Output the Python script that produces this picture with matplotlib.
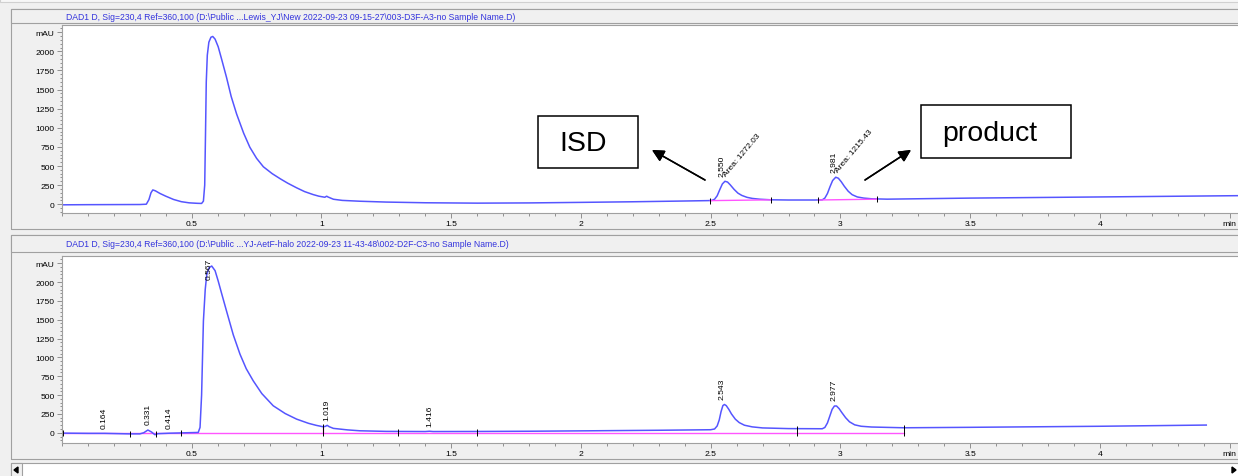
import numpy as np
import matplotlib
matplotlib.use("Agg")
import matplotlib.pyplot as plt
from matplotlib.patches import Rectangle, Polygon
from matplotlib.ticker import MultipleLocator

plt.rcParams['font.family'] = ['Liberation Sans', 'DejaVu Sans']

W, H = 1238, 477

# ---- data (time in min, signal in mAU) ----
top_title = r"DAD1 D, Sig=230,4 Ref=360,100 (D:\Public ...Lewis_YJ\New 2022-09-23 09-15-27\003-D3F-A3-no Sample Name.D)"
bot_title = r"DAD1 D, Sig=230,4 Ref=360,100 (D:\Public ...YJ-AetF-halo 2022-09-23 11-43-48\002-D2F-C3-no Sample Name.D)"

top_t = [0.00, 0.10, 0.20, 0.30, 0.325, 0.335, 0.343, 0.350, 0.360, 0.378, 0.40, 0.43, 0.46, 0.49, 0.52,
         0.538, 0.545, 0.550, 0.553, 0.556, 0.560, 0.566, 0.574, 0.581, 0.590, 0.602, 0.615, 0.634, 0.652,
         0.673, 0.70, 0.724, 0.75, 0.776, 0.81, 0.842, 0.87, 0.904, 0.935, 0.968, 0.99, 1.013, 1.020, 1.025,
         1.046, 1.08, 1.148, 1.25, 1.40, 1.60, 1.80, 2.00, 2.20, 2.40, 2.49, 2.505, 2.515, 2.525, 2.535,
         2.545, 2.555, 2.565, 2.575, 2.59, 2.605, 2.62, 2.64, 2.66, 2.69, 2.73, 2.80, 2.90, 2.93, 2.94,
         2.95, 2.96, 2.97, 2.982, 2.992, 3.003, 3.015, 3.03, 3.045, 3.065, 3.09, 3.12, 3.18, 3.50, 4.00, 4.54]
top_mau = [-8, -6, -5, -4, 0, 60, 150, 187, 175, 140, 105, 62, 33, 18, 12,
           10, 40, 250, 900, 1600, 1950, 2120, 2185, 2195, 2160, 2060, 1900, 1660, 1410,
           1180, 930, 745, 600, 490, 400, 331, 275, 215, 165, 126, 105, 91, 105, 95,
           65, 50, 39, 28, 19, 14, 17, 24, 32, 42, 47, 50, 65, 110, 190,
           265, 300, 290, 255, 195, 145, 115, 90, 76, 65, 58, 55, 55, 57, 80,
           140, 230, 310, 353, 340, 295, 235, 170, 125, 95, 80, 71, 66, 80, 95, 112]

top_rt = [2.550, 2.981]
top_rt_height = [300, 353]
top_area = ["1272.03", "1215.43"]
top_base_t = [[2.499, 2.733], [2.915, 3.142]]
top_base_y = [[47, 57], [55, 66]]

bot_t = [0.00, 0.10, 0.164, 0.26, 0.30, 0.315, 0.331, 0.345, 0.358, 0.37, 0.40, 0.414, 0.46, 0.525,
         0.532, 0.538, 0.545, 0.552, 0.558, 0.567, 0.577, 0.590, 0.602, 0.615, 0.634, 0.66, 0.686,
         0.71, 0.737, 0.77, 0.814, 0.86, 0.904, 0.95, 0.98, 1.007, 1.015, 1.022, 1.03, 1.046, 1.10,
         1.148, 1.25, 1.40, 1.416, 1.43, 1.60, 1.80, 2.00, 2.30, 2.50, 2.515, 2.525, 2.533, 2.54, 2.547,
         2.553, 2.56, 2.57, 2.58, 2.595, 2.61, 2.63, 2.66, 2.70, 2.80, 2.93, 2.94, 2.95, 2.96, 2.968,
         2.977, 2.985, 2.995, 3.005, 3.02, 3.035, 3.055, 3.08, 3.12, 3.245, 3.50, 4.00, 4.41]
bot_mau = [-5, -8, -8, -15, -15, 0, 36, 10, -26, -12, -8, -6, -2, 4,
           71, 500, 1483, 1900, 2102, 2190, 2212, 2150, 2013, 1850, 1616, 1300, 1042,
           850, 689, 520, 358, 255, 181, 125, 98, 79, 85, 98, 80, 58, 38,
           26, 18, 16, 20, 16, 17, 20, 25, 33, 40, 50, 90, 170, 280, 360,
           375, 360, 310, 250, 180, 135, 100, 78, 64, 55, 53, 70, 130, 230, 310,
           355, 355, 320, 270, 200, 145, 105, 86, 76, 66, 72, 86, 102]

bot_rt = [0.164, 0.331, 0.414, 0.567, 1.019, 1.416, 2.543, 2.977]
bot_rt_height = [-8, 36, -6, 2212, 98, 20, 375, 355]
bot_base_t = [0.0, 3.245]
bot_base_y = [-8, -8]
bot_event_t = [0.005, 0.262, 0.362, 0.46, 1.007, 1.296, 1.598, 2.834, 3.245]
bot_event_y = [-5, -15, -20, -2, 79, 18, 16, 55, 66]

xtick_pos = [0.5, 1, 1.5, 2, 2.5, 3, 3.5, 4, 4.5]
xtick_labels = ["0.5", "1", "1.5", "2", "2.5", "3", "3.5", "4", "min"]
ytick_pos = [0, 250, 500, 750, 1000, 1250, 1500, 1750, 2000, 2250]
ytick_labels = ["0", "250", "500", "750", "1000", "1250", "1500", "1750", "2000", "mAU"]

TRACE = '#5555ff'
BASE = '#ff55ff'
GRID = '#a0a0a0'
FS = 6.1


def fbox(x0, y0, x1, y1):
    # pixel box (top-left origin) -> figure fraction [l, b, w, h]
    return [x0 / W, 1 - y1 / H, (x1 - x0) / W, (y1 - y0) / H]


def px(x, y):
    return (x / W, 1 - y / H)


fig = plt.figure(figsize=(W / 100, H / 100), dpi=100)
fig.patch.set_facecolor('#f0f0f0')


def frame(x0, y0, x1, y1, fc='none', ec=GRID, lw=0.8):
    l, b, w, h = fbox(x0, y0, x1, y1)
    fig.add_artist(Rectangle((l, b), w, h, transform=fig.transFigure,
                             facecolor=fc, edgecolor=ec, linewidth=lw))


# panel frames and header bars
frame(0, -2, 1242, 3, fc='#f7f7f7', ec='#d0d0d0')
frame(11, 10, 1242, 230)
frame(11, 10, 1242, 24, fc='#f0f0f0')
frame(11, 236, 1242, 460)
frame(11, 236, 1242, 253, fc='#f0f0f0')
frame(11, 464, 1242, 480, fc='white')
frame(11, 464, 22, 480, fc='#f0f0f0')
fig.add_artist(Polygon([px(14, 471), px(18, 468), px(18, 474)], closed=True,
                       transform=fig.transFigure, color='k'))
fig.add_artist(Polygon([px(1236, 471), px(1232, 468), px(1232, 474)], closed=True,
                       transform=fig.transFigure, color='k'))

fig.text(66 / W, 1 - 17 / H, top_title, color='#3333dd', fontsize=6.2, va='center', ha='left')
fig.text(66 / W, 1 - 245 / H, bot_title, color='#3333dd', fontsize=6.2, va='center', ha='left')

ax1 = fig.add_axes(fbox(62, 26, 1240, 214))
ax2 = fig.add_axes(fbox(62, 257, 1240, 444))


def setup(ax, ymin):
    ax.set_xlim(0, 4.54)
    ax.set_ylim(ymin, 2345)
    ax.set_xticks(xtick_pos)
    ax.set_xticklabels(xtick_labels)
    ax.xaxis.set_minor_locator(MultipleLocator(0.1))
    ax.set_yticks(ytick_pos)
    ax.set_yticklabels(ytick_labels)
    ax.yaxis.set_minor_locator(MultipleLocator(50))
    ax.tick_params(which='major', length=3.3, width=0.6, color='#808080', labelsize=FS, pad=2)
    ax.tick_params(which='minor', length=1.8, width=0.6, color='#808080')
    for s in ax.spines.values():
        s.set_color(GRID)
        s.set_linewidth(0.8)
    ax.set_facecolor('white')


setup(ax1, -115)
setup(ax2, -136)

# ---- top run ----
ax1.plot(top_t, top_mau, color=TRACE, lw=1.1)
for bt, by in zip(top_base_t, top_base_y):
    ax1.plot(bt, by, color=BASE, lw=1.0)
    ax1.plot(bt, by, ls='none', marker='|', ms=5, mew=0.7, color='k')
for rt, h, area in zip(top_rt, top_rt_height, top_area):
    ax1.annotate(f"{rt:.3f}", (rt, h), xytext=(-1, 4), textcoords='offset points',
                 rotation=90, ha='center', va='bottom', fontsize=FS)
    ax1.annotate(f"Area: {area}", (rt, h), xytext=(3, 3), textcoords='offset points',
                 rotation=50, rotation_mode='anchor', ha='left', va='bottom', fontsize=FS)

# ---- bottom run ----
ax2.plot(bot_base_t, bot_base_y, color=BASE, lw=1.0)
ax2.vlines(1.007, bot_base_y[0], 79, color=BASE, lw=1.0)
ax2.plot(bot_t, bot_mau, color=TRACE, lw=1.1)
for et, ey in zip(bot_event_t, bot_event_y):
    ax2.vlines(et, min(ey, bot_base_y[0]) - 35, max(ey, bot_base_y[0]) + 35, color='k', lw=0.7)
for rt, h in zip(bot_rt, bot_rt_height):
    if h > 2000:
        ax2.annotate(f"{rt:.3f}", (rt, 2345), xytext=(0, -1), textcoords='offset points',
                     rotation=90, ha='center', va='top', fontsize=FS)
    else:
        ax2.annotate(f"{rt:.3f}", (rt, h), xytext=(0, 4), textcoords='offset points',
                     rotation=90, ha='center', va='bottom', fontsize=FS)

# ---- hand-drawn call-outs ----
frame(538, 117, 638, 169, fc='white', ec='k', lw=1.1)
fig.text(583 / W, 1 - 144 / H, "ISD", fontsize=20.5, ha='center', va='center')
frame(921, 106, 1071, 159, fc='white', ec='k', lw=1.1)
fig.text(990 / W, 1 - 134 / H, "product", fontsize=20.5, ha='center', va='center')
arrow = dict(arrowstyle='-|>', color='k', lw=1.1, mutation_scale=18, shrinkA=0, shrinkB=0)
fig.add_artist(plt.annotate("", xy=px(652, 151), xytext=px(705, 181),
                            xycoords='figure fraction', arrowprops=arrow))
fig.add_artist(plt.annotate("", xy=px(911, 151), xytext=px(865, 181),
                            xycoords='figure fraction', arrowprops=arrow))

fig.savefig("out.png", dpi=100, facecolor=fig.get_facecolor())
